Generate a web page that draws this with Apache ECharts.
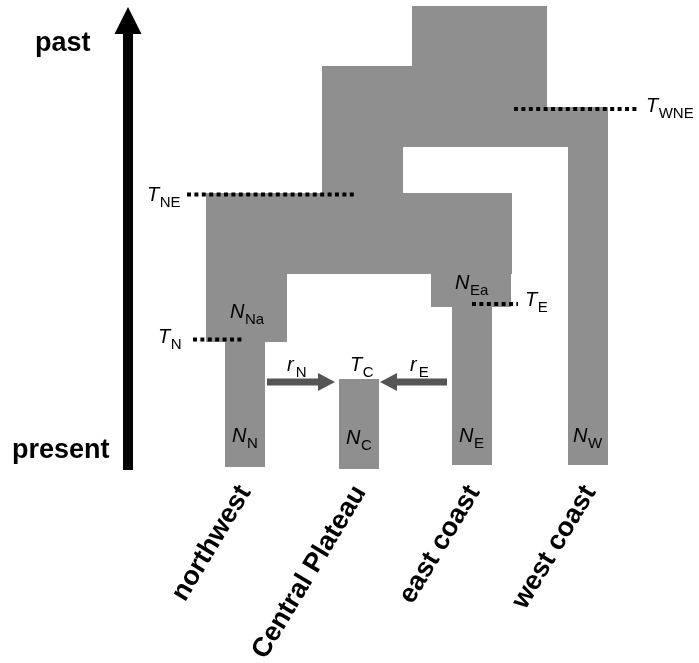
<!DOCTYPE html>
<html><head><meta charset="utf-8">
<script src="https://cdn.jsdelivr.net/npm/echarts@6/dist/echarts.min.js"></script>
<style>html,body{margin:0;padding:0;background:#fff}#c{width:699px;height:663px}</style>
</head><body><div id="c"></div>
<script>
// Horizontal position is in diagram units; time t = 0 is the present, larger t = further in the past.
const blockNames  = ['root','NEW ancestor (upper)','NEW ancestor (lower)','NE stem','west coast','NE ancestor','northwest ancestor','east ancestor','northwest','east coast','Central Plateau'];
const blockLeft   = [412, 322, 322, 322, 568, 206, 206, 431, 225, 452, 339];
const blockRight  = [547, 547, 608, 403, 608, 512, 287, 511, 265, 492, 379];
const blockRecent = [401, 360, 320, 274,   2, 193, 125, 160,   0,   2,  -2];
const blockOld    = [461, 401, 360, 320, 320, 274, 193, 193, 125, 160,  88];

const eventNames = ['T_N', 'T_E', 'T_NE', 'T_WNE'];
const eventTime  = [127.5, 163, 272.5, 358];
const eventFrom  = [193, 472, 187, 514];
const eventTo    = [243, 518, 356, 638];

const migNames = ['r_N', 'r_E'];
const migFrom  = [267, 447];
const migTo    = [335, 380];
const migTime  = [85, 85];

const labelMain = ['T', 'T', 'N', 'N', 'T', 'T', 'r', 'T', 'r', 'N', 'N', 'N', 'N'];
const labelSub  = ['NE','N', 'Na','Ea','E', 'WNE','N','C', 'E', 'N', 'C', 'E', 'W'];
const labelX    = [147, 158, 230, 455, 525, 646, 287, 350, 410, 232, 346, 459, 573];
const labelT    = [272, 129.5, 155, 183.5, 166.5, 360.5, 102, 102, 102, 31, 28.5, 31, 31];

const regions = ['northwest', 'Central Plateau', 'east coast', 'west coast'];
const regionX = [245, 360, 474, 590];
const regionT = [-21, -21, -21, -21];

const timeWords = ['past', 'present'];
const timeWordX = [35, 12];
const timeWordT = [423.4, 16.4];
const timeArrowX = 128;
const timeArrowFrom = -3;
const timeArrowTo = 460;

const GRAY = '#8f8f8f';
const DARK = '#555555';
const FONT = '"Liberation Sans", Arial, Helvetica, sans-serif';

const mctx = document.createElement('canvas').getContext('2d');
function textW(t, size, style) { mctx.font = (style || '') + ' ' + size + 'px ' + FONT; return mctx.measureText(t).width; }

const chart = echarts.init(document.getElementById('c'), null, {renderer: 'canvas'});

const blockData = blockNames.map((n, i) => [blockLeft[i], blockRight[i], blockRecent[i], blockOld[i]]);
const eventData = eventNames.map((n, i) => [eventFrom[i], eventTo[i], eventTime[i]]);
const migData = migNames.map((n, i) => [migFrom[i], migTo[i], migTime[i]]);
const labelData = labelMain.map((m, i) => [labelX[i], labelT[i], i]);
const regionData = regions.map((r, i) => [regionX[i], regionT[i], i]);
const wordData = timeWords.map((w, i) => [timeWordX[i], timeWordT[i], i]);

chart.setOption({
  animation: false,
  grid: {left: 0, right: 0, top: 0, bottom: 0},
  xAxis: {type: 'value', min: 0, max: 699, show: false},
  yAxis: {type: 'value', min: -196, max: 467, show: false},
  series: [
    { type: 'custom', data: blockData, silent: true,
      renderItem(params, api) {
        const a = api.coord([api.value(0), api.value(3)]);
        const b = api.coord([api.value(1), api.value(2)]);
        return {type: 'rect', shape: {x: a[0], y: a[1], width: b[0] - a[0], height: b[1] - a[1]}, style: {fill: GRAY}};
      }},
    { type: 'custom', data: eventData, silent: true,
      renderItem(params, api) {
        const a = api.coord([api.value(0), api.value(2)]);
        const b = api.coord([api.value(1), api.value(2)]);
        return {type: 'line', shape: {x1: a[0], y1: a[1], x2: b[0], y2: b[1]},
          style: {stroke: '#000', lineWidth: 4, lineDash: [4, 3.4], lineCap: 'butt'}};
      }},
    { type: 'custom', data: migData, silent: true,
      renderItem(params, api) {
        const a = api.coord([api.value(0), api.value(2)]);
        const b = api.coord([api.value(1), api.value(2)]);
        const dir = b[0] > a[0] ? 1 : -1;
        const hl = 17, hh = 9, sh = 3.5;
        const base = b[0] - dir * hl;
        return {type: 'group', children: [
          {type: 'polygon', shape: {points: [[a[0], a[1] - sh], [base, a[1] - sh], [base, a[1] + sh], [a[0], a[1] + sh]]}, style: {fill: DARK}},
          {type: 'polygon', shape: {points: [[base, a[1] - hh], [b[0], a[1]], [base, a[1] + hh]]}, style: {fill: DARK}}
        ]};
      }},
    { type: 'custom', data: [[timeArrowX, timeArrowFrom, timeArrowTo]], silent: true,
      renderItem(params, api) {
        const a = api.coord([api.value(0), api.value(1)]);
        const b = api.coord([api.value(0), api.value(2)]);
        const hl = 27, hw = 13.5, sw = 5;
        return {type: 'group', children: [
          {type: 'rect', shape: {x: a[0] - sw, y: b[1] + hl - 1, width: sw * 2, height: a[1] - b[1] - hl + 1}, style: {fill: '#000'}},
          {type: 'polygon', shape: {points: [[b[0] - hw, b[1] + hl], [b[0], b[1]], [b[0] + hw, b[1] + hl]]}, style: {fill: '#000'}}
        ]};
      }},
    { type: 'custom', data: labelData, silent: true,
      renderItem(params, api) {
        const i = api.value(2);
        const p = api.coord([api.value(0), api.value(1)]);
        const mw = textW(labelMain[i], 20, 'italic') + (labelMain[i] === 'r' ? 2 : 0.5);
        return {type: 'group', children: [
          {type: 'text', x: p[0], y: p[1], style: {text: labelMain[i], fontSize: 20, fontStyle: 'italic', fontFamily: FONT, fill: '#000', align: 'left', verticalAlign: 'middle'}},
          {type: 'text', x: p[0] + mw, y: p[1] + 7.5, style: {text: labelSub[i], fontSize: 15, fontFamily: FONT, fill: '#000', align: 'left', verticalAlign: 'middle'}}
        ]};
      }},
    { type: 'custom', data: regionData, silent: true,
      renderItem(params, api) {
        const i = api.value(2);
        const p = api.coord([api.value(0), api.value(1)]);
        return {type: 'text', x: p[0], y: p[1], rotation: 59 * Math.PI / 180,
          style: {text: regions[i], fontSize: 27, fontWeight: 'bold', fontFamily: FONT, fill: '#000', align: 'right', verticalAlign: 'middle'}};
      }},
    { type: 'custom', data: wordData, silent: true,
      renderItem(params, api) {
        const i = api.value(2);
        const p = api.coord([api.value(0), api.value(1)]);
        return {type: 'text', x: p[0], y: p[1],
          style: {text: timeWords[i], fontSize: 27, fontWeight: 'bold', fontFamily: FONT, fill: '#000', align: 'left', verticalAlign: 'middle'}};
      }}
  ]
});
</script></body></html>
